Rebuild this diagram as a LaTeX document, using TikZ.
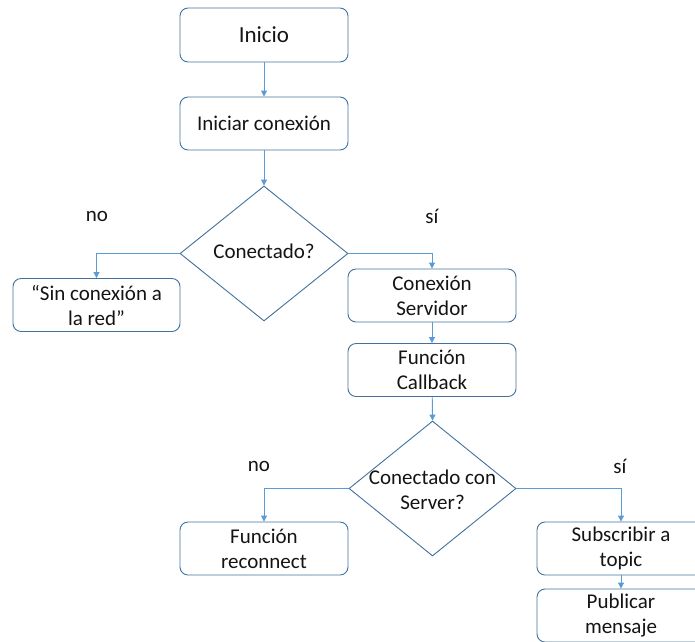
\documentclass[tikz,border=0pt]{standalone}
\usepackage{fontspec}
\setmainfont{Carlito}
\usetikzlibrary{shapes.geometric,arrows.meta}
\definecolor{boxline}{HTML}{41719C}
\definecolor{arrowline}{HTML}{5B9BD5}
\definecolor{ink}{HTML}{141414}
\begin{document}
\begin{tikzpicture}[x=1pt,y=-1pt,
  stepbox/.style={draw=boxline, line width=0.9pt, rounded corners=8pt,
    minimum width=168pt, minimum height=53pt, inner sep=0pt, align=center,
    font=\fontsize{21}{25}\selectfont, text=ink},
  decision/.style={draw=boxline, diamond, line width=0.9pt,
    minimum width=168pt, minimum height=135pt, inner sep=0pt},
  dtext/.style={align=center, inner sep=0pt, font=\fontsize{21}{25}\selectfont, text=ink},
  lbl/.style={inner sep=0pt, font=\fontsize{21}{25}\selectfont, text=ink},
  flow/.style={draw=arrowline, line width=0.9pt, -{Triangle[width=6pt,length=6pt]}}]
\useasboundingbox (0,0) rectangle (695,641);

% main column
\node[stepbox, minimum height=54pt, font=\fontsize{23}{27}\selectfont] (inicio) at (264,35) {Inicio};
\node[stepbox] (iniciar) at (264,123.5) {Iniciar conexión};
\node[decision] (d1) at (264,253.5) {};
\node[dtext] (d1t) at (264,251) {Conectado?};

% first decision branches
\node[stepbox, minimum width=167pt] (sinred) at (96.5,305) {“Sin conexión a\\la red”};
\node[stepbox] (servidor) at (432,295.5) {Conexión\\Servidor};
\node[stepbox] (callback) at (432,370) {Función\\Callback};
\node[decision, minimum width=167pt] (d2) at (432.5,488.5) {};
\node[dtext] (d2t) at (432.5,490) {Conectado con\\Server?};

% second decision branches
\node[stepbox] (reconnect) at (264,548.5) {Función\\reconnect};
\node[stepbox] (subscribir) at (621,548.5) {Subscribir a\\topic};
\node[stepbox] (publicar) at (621,615.5) {Publicar\\mensaje};

% branch labels
\node[lbl] (no1) at (97,216) {no};
\node[lbl] (si1) at (432,216) {sí};
\node[lbl] (no2) at (259,466) {no};
\node[lbl] (si2) at (620,466) {sí};

% connectors
\draw[flow] (inicio) -- (iniciar);
\draw[flow] (iniciar) -- (d1.north);
\draw[flow] (d1.west) -| (sinred.north);
\draw[flow] (d1.east) -| (servidor.north);
\draw[flow] (servidor) -- (callback);
\draw[flow] (callback) -- (d2.north);
\draw[flow] (d2.west) -| (reconnect.north);
\draw[flow] (d2.east) -| (subscribir.north);
\draw[flow] (subscribir) -- (publicar);
\end{tikzpicture}
\end{document}
